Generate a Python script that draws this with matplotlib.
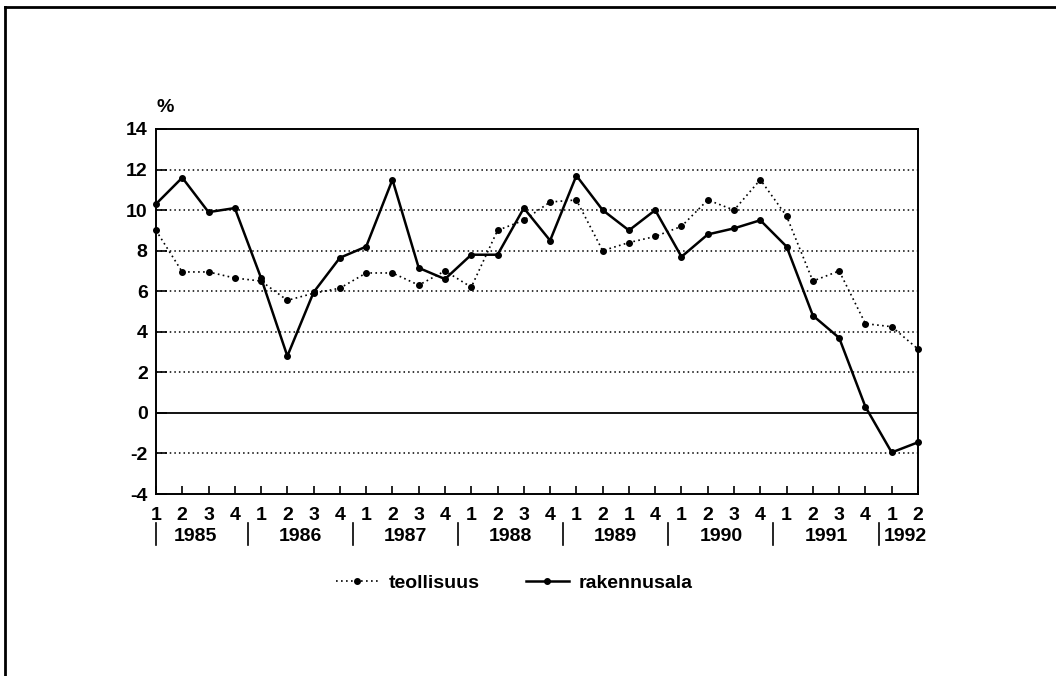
import numpy as np
import matplotlib
matplotlib.use("Agg")
import matplotlib.pyplot as plt
from matplotlib.lines import Line2D
import matplotlib.transforms as mtransforms

plt.rcParams['font.family'] = ['Liberation Sans', 'DejaVu Sans']
plt.rcParams['font.weight'] = 'bold'

# quarter labels as printed (1989 row reads "1 2 1 4" in the original)
quarters = ["1", "2", "3", "4", "1", "2", "3", "4", "1", "2", "3", "4",
            "1", "2", "3", "4", "1", "2", "1", "4", "1", "2", "3", "4",
            "1", "2", "3", "4", "1", "2"]
years = ["1985", "1986", "1987", "1988", "1989", "1990", "1991", "1992"]

teollisuus = [9.0, 6.95, 6.95, 6.65, 6.5, 5.55, 5.9, 6.15, 6.9, 6.9, 6.3, 7.0,
              6.2, 9.0, 9.5, 10.4, 10.5, 8.0, 8.4, 8.7, 9.2, 10.5, 10.0, 11.5,
              9.7, 6.5, 7.0, 4.4, 4.25, 3.15]
rakennusala = [10.3, 11.6, 9.9, 10.1, 6.65, 2.8, 5.95, 7.65, 8.2, 11.5, 7.15, 6.6,
               7.8, 7.8, 10.1, 8.5, 11.7, 10.0, 9.0, 10.0, 7.7, 8.8, 9.1, 9.5,
               8.2, 4.8, 3.7, 0.3, -1.95, -1.45]

fs = 14
fig = plt.figure(figsize=(10.56, 6.76), dpi=100)
ax = fig.add_axes([0.1477, 0.2692, 0.8693 - 0.1477, 0.8092 - 0.2692])

x = np.arange(len(teollisuus))
ax.plot(x, teollisuus, color="black", lw=1.2, ls=(0, (1, 2)), marker="o",
        ms=4, label="teollisuus", clip_on=False, zorder=4)
ax.plot(x, rakennusala, color="black", lw=1.8, ls="-", marker="o",
        ms=4, label="rakennusala", clip_on=False, zorder=5)

ax.set_xlim(0, len(x) - 1)
ax.set_ylim(-4, 14)
yt = np.arange(-4, 15, 2)
ax.set_yticks(yt)
ax.set_yticklabels([str(v) for v in yt], fontsize=fs)
for v in yt:
    if v == 0:
        ax.axhline(v, color="black", lw=1.3, zorder=2)
    elif -4 < v < 14:
        ax.axhline(v, color="black", lw=1.1, ls=(0, (1, 2)), zorder=1)

ax.set_xticks(x)
ax.set_xticklabels(quarters, fontsize=fs)
ax.tick_params(axis="both", direction="in", color="black", width=1.2)
ax.tick_params(axis="x", length=6, pad=9)
ax.tick_params(axis="y", length=8, pad=6)
for s in ax.spines.values():
    s.set_linewidth(1.4)

# year labels and separators below the quarter row
trans = mtransforms.blended_transform_factory(ax.transData, ax.transAxes)
for k, yr in enumerate(years):
    xc = min(4 * k + 1.5, len(x) - 1.5)
    ax.text(xc, -0.117, yr, transform=trans, ha="center", va="center",
            fontsize=fs, clip_on=False)
    sep = max(4 * k - 0.5, 0)
    ax.add_line(Line2D([sep, sep], [-0.08, -0.14], transform=trans,
                       color="black", lw=1.2, clip_on=False))

ax.text(0.012, 1.035, "%", transform=ax.transAxes, fontsize=fs, ha="center",
        va="bottom")

leg = ax.legend(loc="center", bbox_to_anchor=(0.47, -0.245), ncol=2, frameon=False,
                fontsize=fs, handlelength=2.2, columnspacing=2.4, handletextpad=0.5)

# scanned page frame (top and left edges)
fig.add_artist(Line2D([0.005, 1.0], [0.99, 0.99], transform=fig.transFigure,
                      color="black", lw=2))
fig.add_artist(Line2D([0.005, 0.005], [0.0, 0.99], transform=fig.transFigure,
                      color="black", lw=2))

fig.savefig("out.png", dpi=100, facecolor="white")
